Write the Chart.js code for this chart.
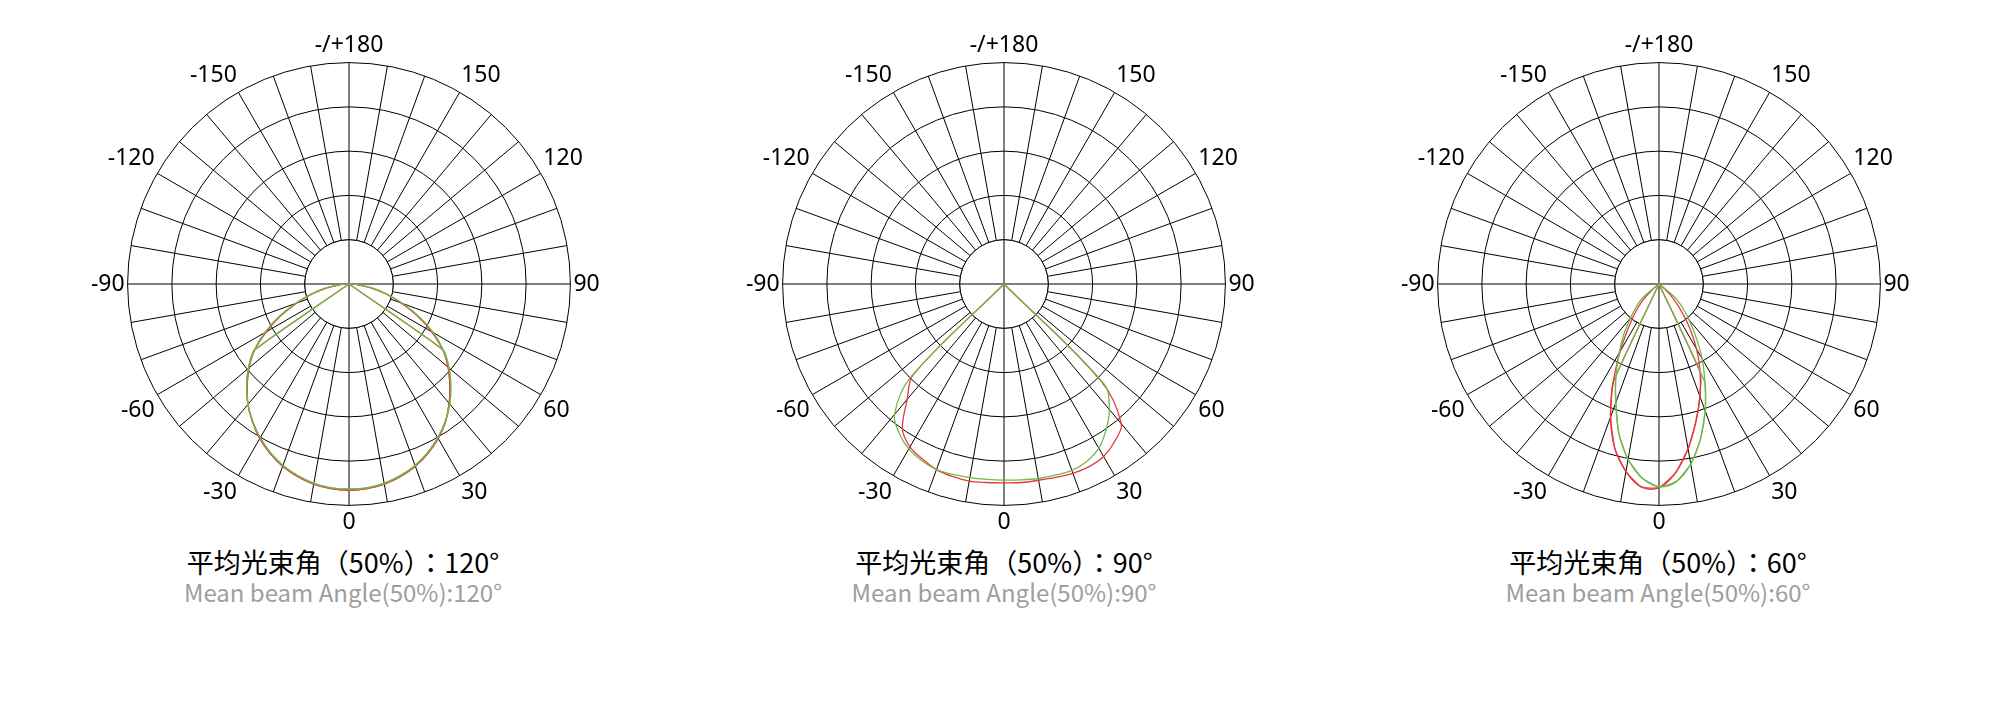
<!DOCTYPE html>
<html>
<head>
<meta charset="utf-8">
<script src="https://cdn.jsdelivr.net/npm/chart.js@4.4.1/dist/chart.umd.min.js"></script>
<style>
  body { margin: 0; width: 2002px; height: 724px; background: #fff; position: relative; overflow: hidden; }
  .box { position: absolute; top: 33px; width: 620px; height: 504px; }
  .cn, .en { position: absolute; width: 620px; text-align: center; font-family: "Noto Sans CJK SC"; white-space: nowrap; }
  .cn { top: 548px; font-size: 27px; line-height: 27px; color: #000; }
  .cn .colon { font-family: "Noto Sans CJK TC"; }
  .en { top: 580px; font-size: 24px; line-height: 24px; color: #9e9e9e; }
</style>
</head>
<body>

<div class="box" style="left:39px"><canvas id="c0" width="620" height="504"></canvas></div>
<div class="box" style="left:694px"><canvas id="c1" width="620" height="504"></canvas></div>
<div class="box" style="left:1349px"><canvas id="c2" width="620" height="504"></canvas></div>

<div class="cn" style="left:33px" id="cn0"></div>
<div class="en" style="left:33px" id="en0"></div>
<div class="cn" style="left:694px" id="cn1"></div>
<div class="en" style="left:694px" id="en1"></div>
<div class="cn" style="left:1348px" id="cn2"></div>
<div class="en" style="left:1348px" id="en2"></div>

<script>
// dial positions, 5 degree steps clockwise from the top (180 at top, 0 at bottom)
const angles = [];
for (let a = 180; a > -180; a -= 5) angles.push(a);

// front half only: values for -90, -85, ... 85, 90 (ring units, 5 rings)
const red120 = [0, 0.2, 0.5, 0.85, 1.25, 1.7, 2.15, 2.6, 2.95, 3.25, 3.55, 3.8, 4.03, 4.22, 4.38, 4.5, 4.59, 4.64,
  4.66, 4.64, 4.59, 4.5, 4.38, 4.22, 4.03, 3.8, 3.52, 3.22, 2.92, 2.58, 2.15, 1.7, 1.25, 0.85, 0.5, 0.2, 0];
const green120 = [0, 0.22, 0.55, 0.9, 1.3, 1.75, 2.2, 2.62, 2.97, 3.27, 3.55, 3.79, 4.01, 4.2, 4.36, 4.48, 4.57, 4.62,
  4.63, 4.62, 4.57, 4.48, 4.36, 4.2, 4.01, 3.79, 3.54, 3.25, 2.95, 2.6, 2.2, 1.75, 1.3, 0.9, 0.55, 0.22, 0];

const red90 = [0, 0, 0, 0, 0, 0, 0, 0, 0, 2.9, 3.4, 4.0, 4.25, 4.36, 4.46, 4.5, 4.52, 4.5,
  4.49, 4.5, 4.5, 4.52, 4.55, 4.55, 4.5, 4.35, 4.12, 3.1, 0, 0, 0, 0, 0, 0, 0, 0, 0];
const green90 = [0, 0, 0, 0, 0, 0, 0, 0, 0, 3.0, 3.85, 4.12, 4.3, 4.4, 4.46, 4.45, 4.44, 4.43,
  4.43, 4.44, 4.46, 4.47, 4.48, 4.42, 4.28, 4.02, 3.7, 3.2, 0, 0, 0, 0, 0, 0, 0, 0, 0];

const red60 = [0, 0, 0, 0, 0, 0, 0, 0, 0.2, 0.5, 0.82, 1.2, 1.75, 2.45, 3.2, 3.85, 4.3, 4.6,
  4.6, 4.28, 3.78, 3.22, 2.7, 2.2, 1.7, 1.2, 0.75, 0.42, 0.15, 0, 0, 0, 0, 0, 0, 0, 0];
const green60 = [0, 0, 0, 0, 0, 0, 0, 0, 0.45, 0.72, 1.0, 1.38, 1.8, 2.3, 2.85, 3.5, 4.02, 4.4,
  4.58, 4.48, 4.13, 3.62, 3.05, 2.45, 1.95, 1.45, 1.05, 0.75, 0.45, 0, 0, 0, 0, 0, 0, 0, 0];

// the chord drawn from the centre out to the curve
const cutAt = [55, null, 25];
const beams = ['120°', '90°', '60°'];
const reds = [red120, red90, red60];
const greens = [green120, green90, green60];

const RED = '#e8373a';
const GREEN = '#72b84c';
const GRID = '#000';

function spread(vals, limit) {
  return angles.map(a => {
    if (Math.abs(a) > 90) return 0;
    if (limit != null && Math.abs(a) > limit) return 0;
    return vals[(a + 90) / 5];
  });
}

// white hub with its cross, like the original dial
const hub = {
  id: 'hub',
  beforeDatasetsDraw(chart) {
    const s = chart.scales.r;
    const r1 = s.getDistanceFromCenterForValue(1);
    const c = chart.ctx;
    c.save();
    c.beginPath();
    c.arc(s.xCenter, s.yCenter, r1, 0, Math.PI * 2);
    c.fillStyle = '#fff';
    c.fill();
    c.strokeStyle = GRID;
    c.lineWidth = 1;
    c.stroke();
    c.beginPath();
    c.moveTo(s.xCenter - r1, s.yCenter);
    c.lineTo(s.xCenter + r1, s.yCenter);
    c.moveTo(s.xCenter, s.yCenter - r1);
    c.lineTo(s.xCenter, s.yCenter + r1);
    c.stroke();
    c.restore();
  }
};

for (let k = 0; k < 3; k++) {
  const datasets = [
    { data: spread(greens[k]), borderColor: GREEN, tension: 0.35 },
    { data: spread(reds[k]), borderColor: RED, tension: 0.35 }
  ];
  if (cutAt[k] != null) {
    datasets.splice(1, 0, { data: spread(greens[k], cutAt[k]), borderColor: GREEN, tension: 0.15 });
    datasets.push({ data: spread(reds[k], cutAt[k]), borderColor: RED, tension: 0.15 });
  }

  new Chart(document.getElementById('c' + k), {
    type: 'radar',
    data: { labels: angles, datasets: datasets },
    plugins: [hub],
    options: {
      responsive: false,
      animation: false,
      plugins: { legend: { display: false }, tooltip: { enabled: false } },
      elements: {
        point: { radius: 0 },
        line: { borderWidth: 1.3, fill: false }
      },
      scales: {
        r: {
          min: 0,
          max: 5,
          ticks: { display: false, stepSize: 1 },
          grid: { color: GRID, lineWidth: 1, circular: true },
          angleLines: {
            color: GRID,
            lineWidth: ctx => (ctx.index % 2 === 0 ? 1 : 0)
          },
          pointLabels: {
            color: '#000',
            padding: 3,
            font: { family: 'Noto Sans', size: 23 },
            callback: a => (a === 180 ? '-/+180' : (a % 30 === 0 ? String(a) : ''))
          }
        }
      }
    }
  });

  const cn = document.getElementById('cn' + k);
  cn.append('平均光束角（50%）');
  const colon = document.createElement('span');
  colon.className = 'colon';
  colon.textContent = '：';
  cn.append(colon, beams[k]);
  document.getElementById('en' + k).textContent = 'Mean beam Angle(50%):' + beams[k];
}
</script>
</body>
</html>
